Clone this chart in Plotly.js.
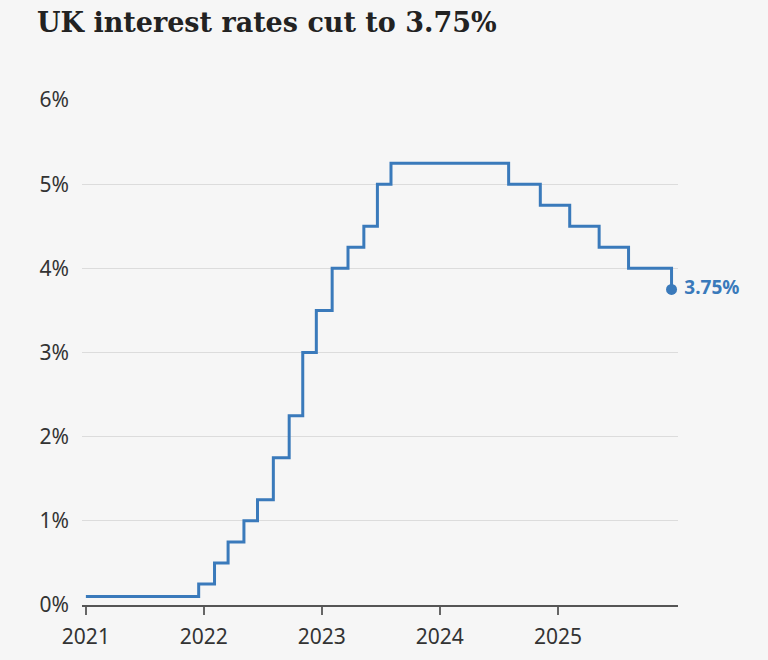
<!DOCTYPE html>
<html>
<head>
<meta charset="utf-8">
<script src="https://cdn.plot.ly/plotly-3.0.1.min.js"></script>
<style>html,body{margin:0;padding:0;background:#f6f6f6;}#chart{width:768px;height:660px;}</style>
</head>
<body>
<div id="chart"></div>
<script>
const dates = ["2021-01-01","2021-12-16","2022-02-03","2022-03-17","2022-05-05","2022-06-16","2022-08-04","2022-09-22","2022-11-03","2022-12-15","2023-02-02","2023-03-23","2023-05-11","2023-06-22","2023-08-03","2024-08-01","2024-11-07","2025-02-06","2025-05-08","2025-08-07","2025-12-18"];
const rates = [0.1,0.25,0.5,0.75,1.0,1.25,1.75,2.25,3.0,3.5,4.0,4.25,4.5,5.0,5.25,5.0,4.75,4.5,4.25,4.0,3.75];
const yTicks = [0,1,2,3,4,5,6];
const yTickLabels = ["0%","1%","2%","3%","4%","5%","6%"];
const xTicks = ["2021-01-01","2022-01-01","2023-01-01","2024-01-01","2025-01-01"];
const xTickLabels = ["2021","2022","2023","2024","2025"];
const titleText = "UK interest rates cut to 3.75%";
const lastLabel = " 3.75%";

const blue = "#3a7abb";
const lastX = dates[dates.length-1], lastY = rates[rates.length-1];

const traces = [
  {x: dates, y: rates, type: "scatter", mode: "lines", line: {shape: "hv", color: blue, width: 3}, hoverinfo: "skip"},
  {x: [lastX], y: [lastY], type: "scatter", mode: "markers+text", marker: {color: blue, size: 11},
   text: [lastLabel], textposition: "middle right", textfont: {family: "Noto Sans", size: 19, color: blue, weight: 700}, cliponaxis: false}
];

const layout = {
  width: 768, height: 660,
  paper_bgcolor: "#f6f6f6", plot_bgcolor: "#f6f6f6",
  margin: {l: 82, r: 90, t: 100, b: 55},
  showlegend: false,
  title: {text: titleText, x: 37/768, xanchor: "left", xref: "container", y: 0.966, yanchor: "middle",
          font: {family: "DejaVu Serif", size: 27, color: "#222", weight: 700}},
  xaxis: {type: "date", range: ["2020-12-20","2026-01-07"], tickvals: xTicks, ticktext: xTickLabels,
          showgrid: false, zeroline: false, showline: true, linecolor: "#555", linewidth: 1.5,
          ticks: "outside", ticklen: 8, tickcolor: "#666", tickwidth: 1.5, ticklabelstandoff: 4,
          tickfont: {family: "Noto Sans", size: 21, color: "#333"}},
  yaxis: {range: [0, 6], tickvals: yTicks, ticktext: yTickLabels, showgrid: true, gridcolor: "#dcdcdc", gridwidth: 1,
          zeroline: false, showline: false, ticks: "", ticklabelstandoff: 12,
          tickfont: {family: "Noto Sans", size: 21, color: "#333"}}
};

Plotly.newPlot("chart", traces, layout, {displayModeBar: false, staticPlot: true});
</script>
</body>
</html>
